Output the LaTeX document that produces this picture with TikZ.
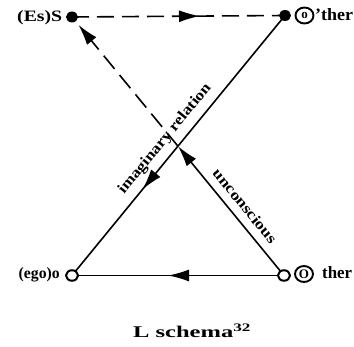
\documentclass[tikz,border=0pt]{standalone}
\usepackage{fontspec}
\setmainfont{Liberation Serif}
\usetikzlibrary{arrows.meta,decorations.markings,shapes.geometric}
\newcommand{\mystretch}[2]{\resizebox{#1}{\height}{#2}}
\newcommand{\myfit}[3]{\resizebox{#1}{#2}{#3}}
\tikzset{
  conn/.style={line width=1.6pt},
  dsh/.style={conn, dash pattern=on 17pt off 8pt},
  tipmark/.style={postaction={decorate},
    decoration={markings, mark=at position #1 with {\arrow{Latex[length=21pt,width=12pt]}}}},
  fdot/.style={fill=black, ellipse, minimum width=12pt, minimum height=11pt, inner sep=0pt},
  odot/.style={draw=black, fill=white, ellipse, line width=2pt, minimum width=12pt, minimum height=10.5pt, inner sep=0pt},
  cletter/.style={draw=black, ellipse, line width=1.9pt, minimum width=18pt, minimum height=16pt, inner sep=0pt, font=\bfseries\fontsize{13}{13}\selectfont},
  lab/.style={inner sep=0pt, font=\bfseries\fontsize{13}{13}\selectfont},
  slab/.style={inner sep=0pt, font=\bfseries\fontsize{15}{15}\selectfont}
}
\begin{document}
\begin{tikzpicture}[x=1pt,y=-1pt]
\useasboundingbox (0,0) rectangle (354,347);
\coordinate (S) at (72,17);
\coordinate (O) at (285,15.5);
\coordinate (o) at (72,275.5);
\coordinate (A) at (284,275.5);
\coordinate (X) at (intersection of o--O and A--S);
% connectors
\draw[dsh, tipmark=128pt] (S) -- (O);
\draw[conn, tipmark=116pt] (A) -- (o);
\draw[conn, tipmark=225pt] (O) -- (o);
\draw[conn, -{Latex[length=21pt,width=12pt]}] (A) -- (X);
\draw[dsh, shorten >=10pt, -{Latex[length=21pt,width=12pt]}] (X) -- (S);
% dots
\node[fdot] (Sd) at (S) {};
\node[fdot] (Od) at (O) {};
\node[odot] (od) at (o) {};
\node[odot] (Ad) at (A) {};
% labels
\node[lab, anchor=base west] (lS) at (17,21.5) {\myfit{45pt}{11pt}{(Es)S}};
\node[lab, anchor=base west] (lo) at (18.5,278.5) {\myfit{41pt}{11pt}{(ego)o}};
\node[cletter] (cO1) at (304.5,15.5) {o};
\node[lab, anchor=base west] (lO1) at (315,20.5) {\myfit{38pt}{12pt}{'ther}};
\node[cletter] (cO2) at (304,274) {O};
\node[lab, anchor=base west] (lO2) at (322,279) {\myfit{30pt}{12pt}{ther}};
\node[slab, rotate=50.7] (im) at (165,139) {\mystretch{138pt}{imaginary relation}};
\node[slab, rotate=-50.7] (un) at (245,206) {\mystretch{92pt}{unconscious}};
\node[inner sep=0pt, anchor=base west, font=\bfseries\fontsize{16}{16}\selectfont] (cap) at (133,338) {\myfit{118pt}{14pt}{L schema\textsuperscript{32}}};
\end{tikzpicture}
\end{document}
